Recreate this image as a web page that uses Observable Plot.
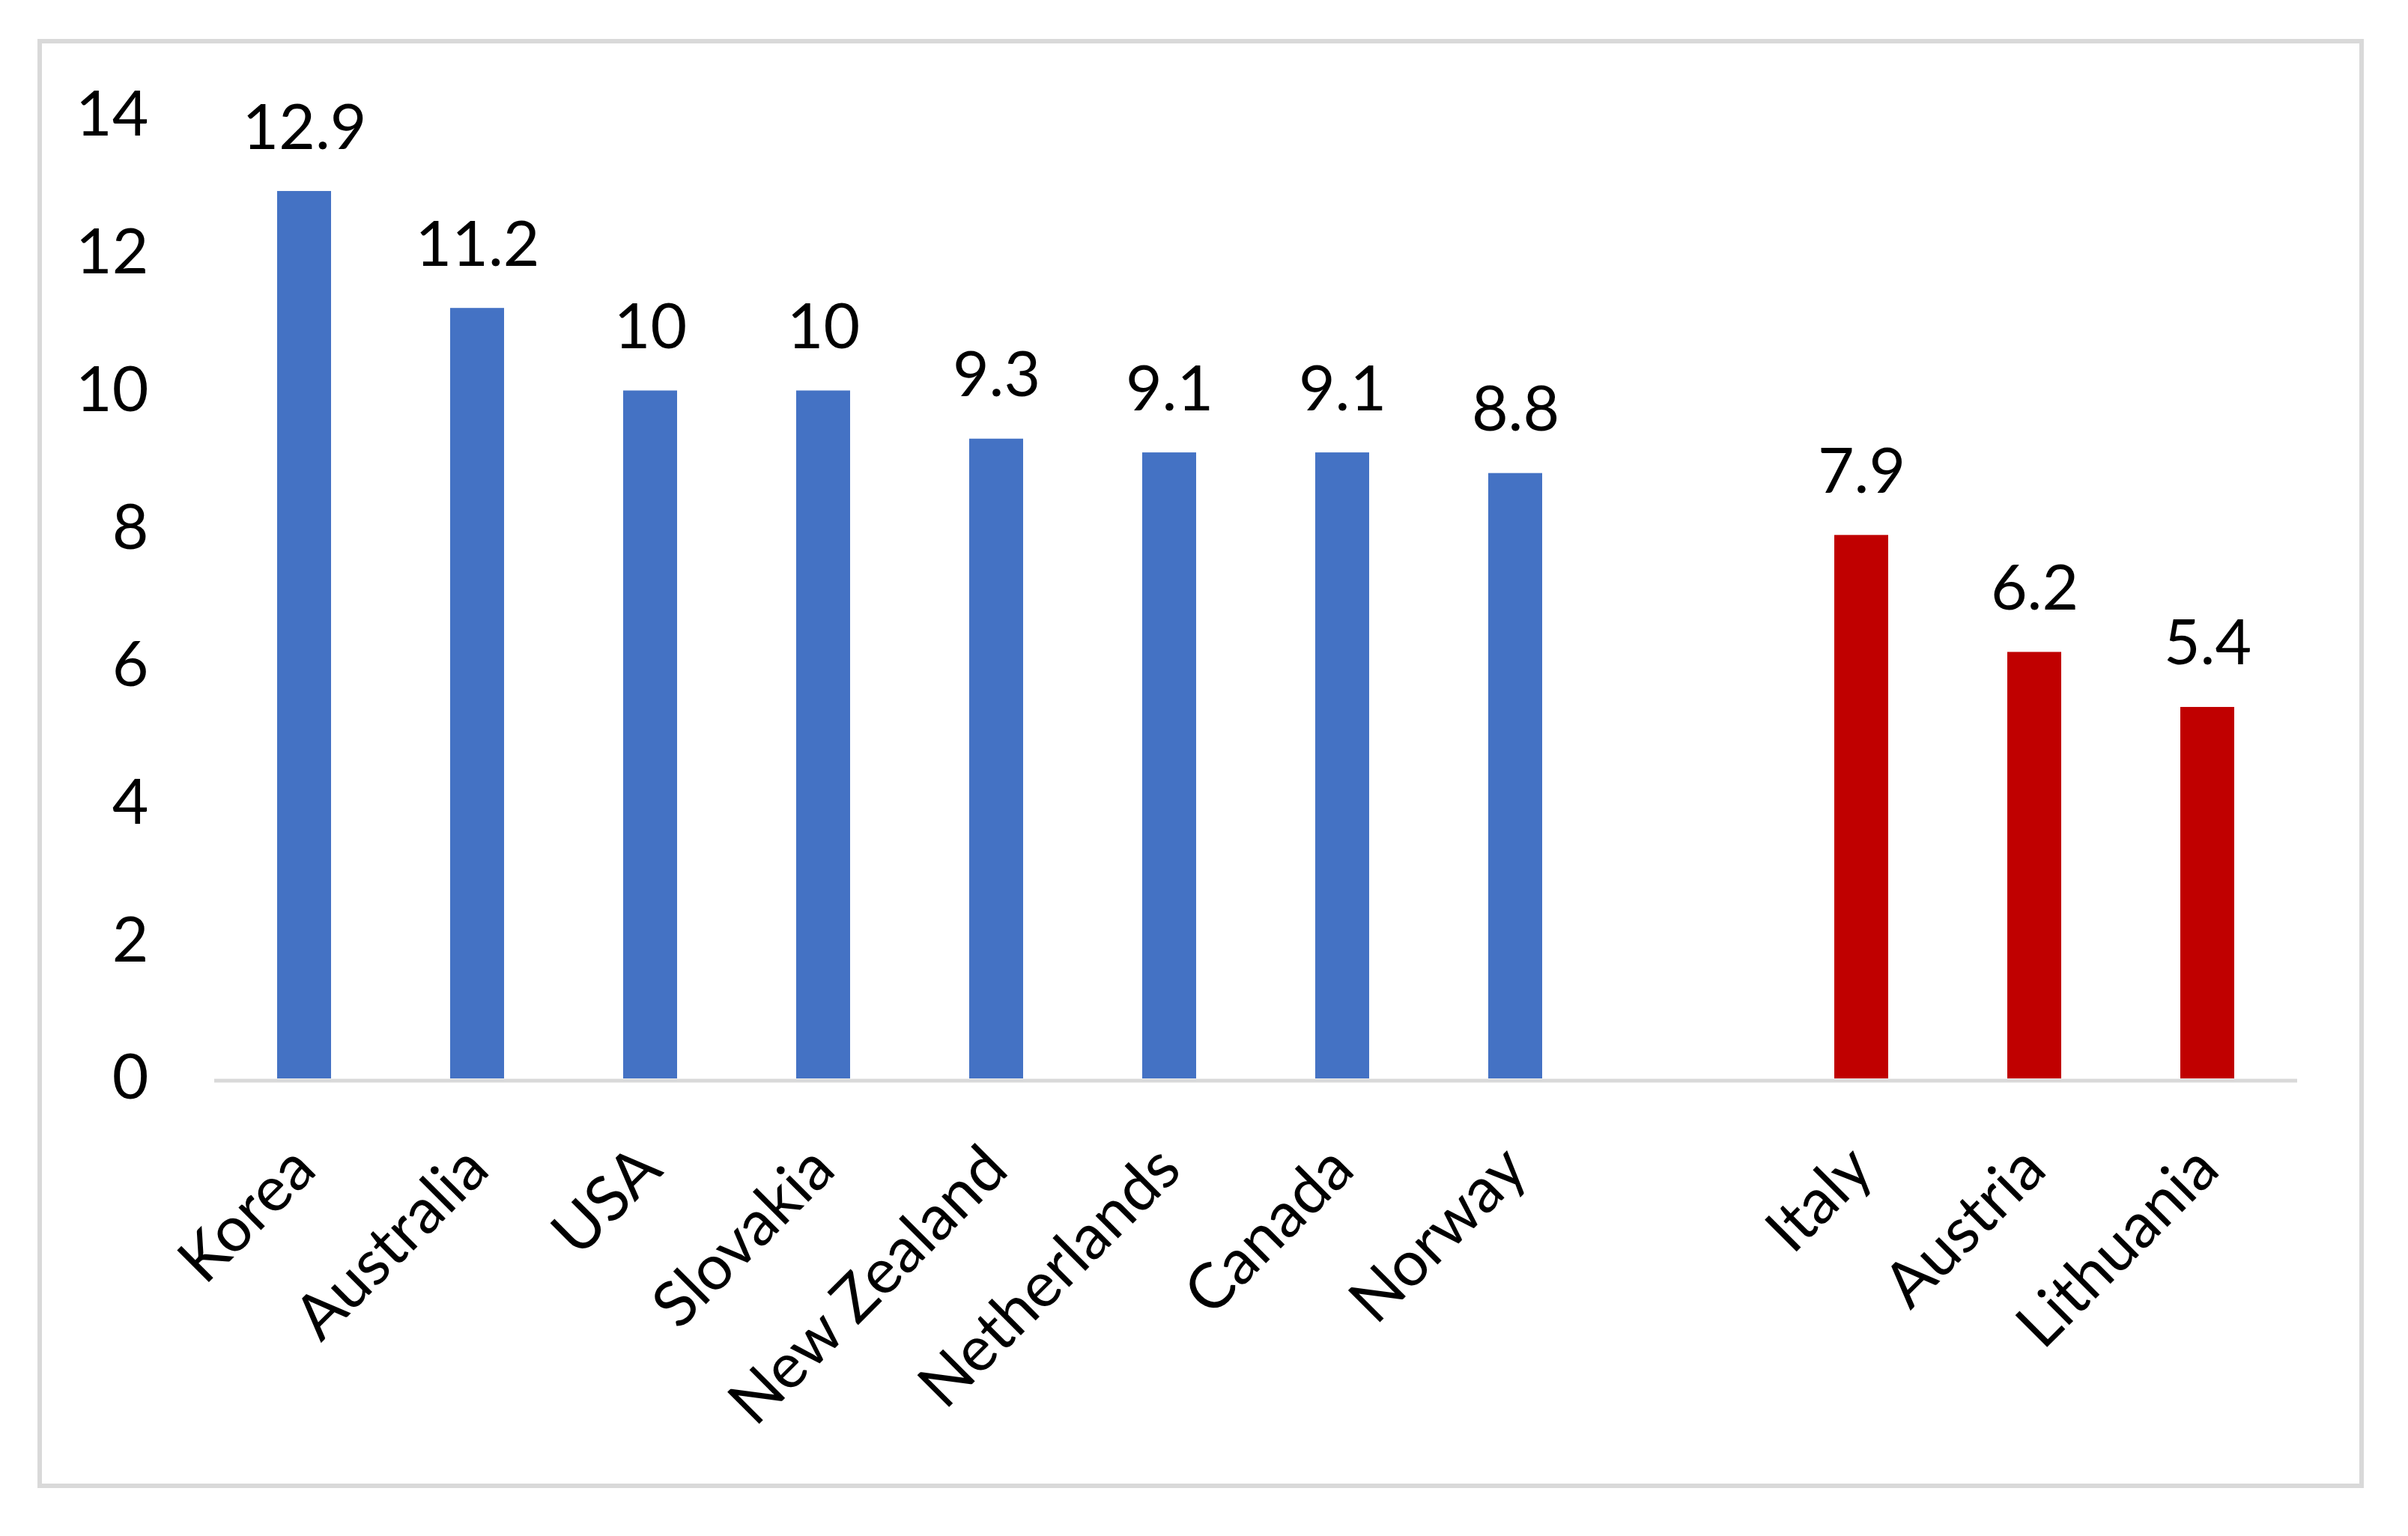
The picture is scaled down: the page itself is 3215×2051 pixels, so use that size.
<!DOCTYPE html>
<html><head><meta charset="utf-8">
<script src="https://cdn.jsdelivr.net/npm/d3@7"></script>
<script src="https://cdn.jsdelivr.net/npm/@observablehq/plot@0.6"></script>
<style>
html,body{margin:0;padding:0;background:#fff;}
#wrap{position:relative;width:3215px;height:2051px;}
#wrap svg{position:absolute;left:0;top:0;}
#border{position:absolute;left:50px;top:52px;width:3094px;height:1923px;border:6px solid #d9d9d9;pointer-events:none;}
</style></head><body>
<div id="wrap"><div id="border"></div></div>
<script>
const countries = ["Korea","Australia","USA","Slovakia","New Zealand","Netherlands","Canada","Norway","Italy","Austria","Lithuania"];
const values = [12.9, 11.2, 10, 10, 9.3, 9.1, 9.1, 8.8, 7.9, 6.2, 5.4];
const groups = ["high","high","high","high","high","high","high","high","low","low","low"];
const groupNames = ["high","low"];
const groupColors = ["#4472C4","#C00000"];
const yTicks = [0, 2, 4, 6, 8, 10, 12, 14];
const gapLabel = " ";

const data = countries.map((c, i) => ({country: c, value: values[i], group: groups[i]}));
const domain = [];
countries.forEach((c, i) => {
  if (i > 0 && groups[i] !== groups[i - 1]) domain.push(gapLabel);
  domain.push(c);
});

const fs = 84;
const chart = Plot.plot({
  width: 3215, height: 2051,
  marginLeft: 286, marginRight: 148, marginTop: 154, marginBottom: 611,
  style: {fontFamily: "Lato, sans-serif", fontSize: fs + "px", color: "#000", background: "transparent", overflow: "visible"},
  x: {domain, paddingInner: 0.69, paddingOuter: 0.345, label: null},
  y: {domain: [0, 14], ticks: yTicks, label: null},
  color: {domain: groupNames, range: groupColors},
  marks: [
    Plot.ruleY([0], {stroke: "#d9d9d9", strokeWidth: 5, dy: 2.5}),
    Plot.barY(data, {x: "country", y: "value", fill: "group"}),
    Plot.text(data, {x: "country", y: "value", text: d => String(d.value), lineAnchor: "bottom", dy: -57, fontSize: fs, fill: "#000"}),
    Plot.axisY({ticks: yTicks, tickSize: 0, tickPadding: 88, fontSize: fs, label: null}),
    Plot.axisX({tickSize: 0, tickRotate: -45, tickPadding: 106, fontSize: fs, label: null, textAnchor: "end"})
  ]
});
document.getElementById("wrap").prepend(chart);
</script>
</body></html>
